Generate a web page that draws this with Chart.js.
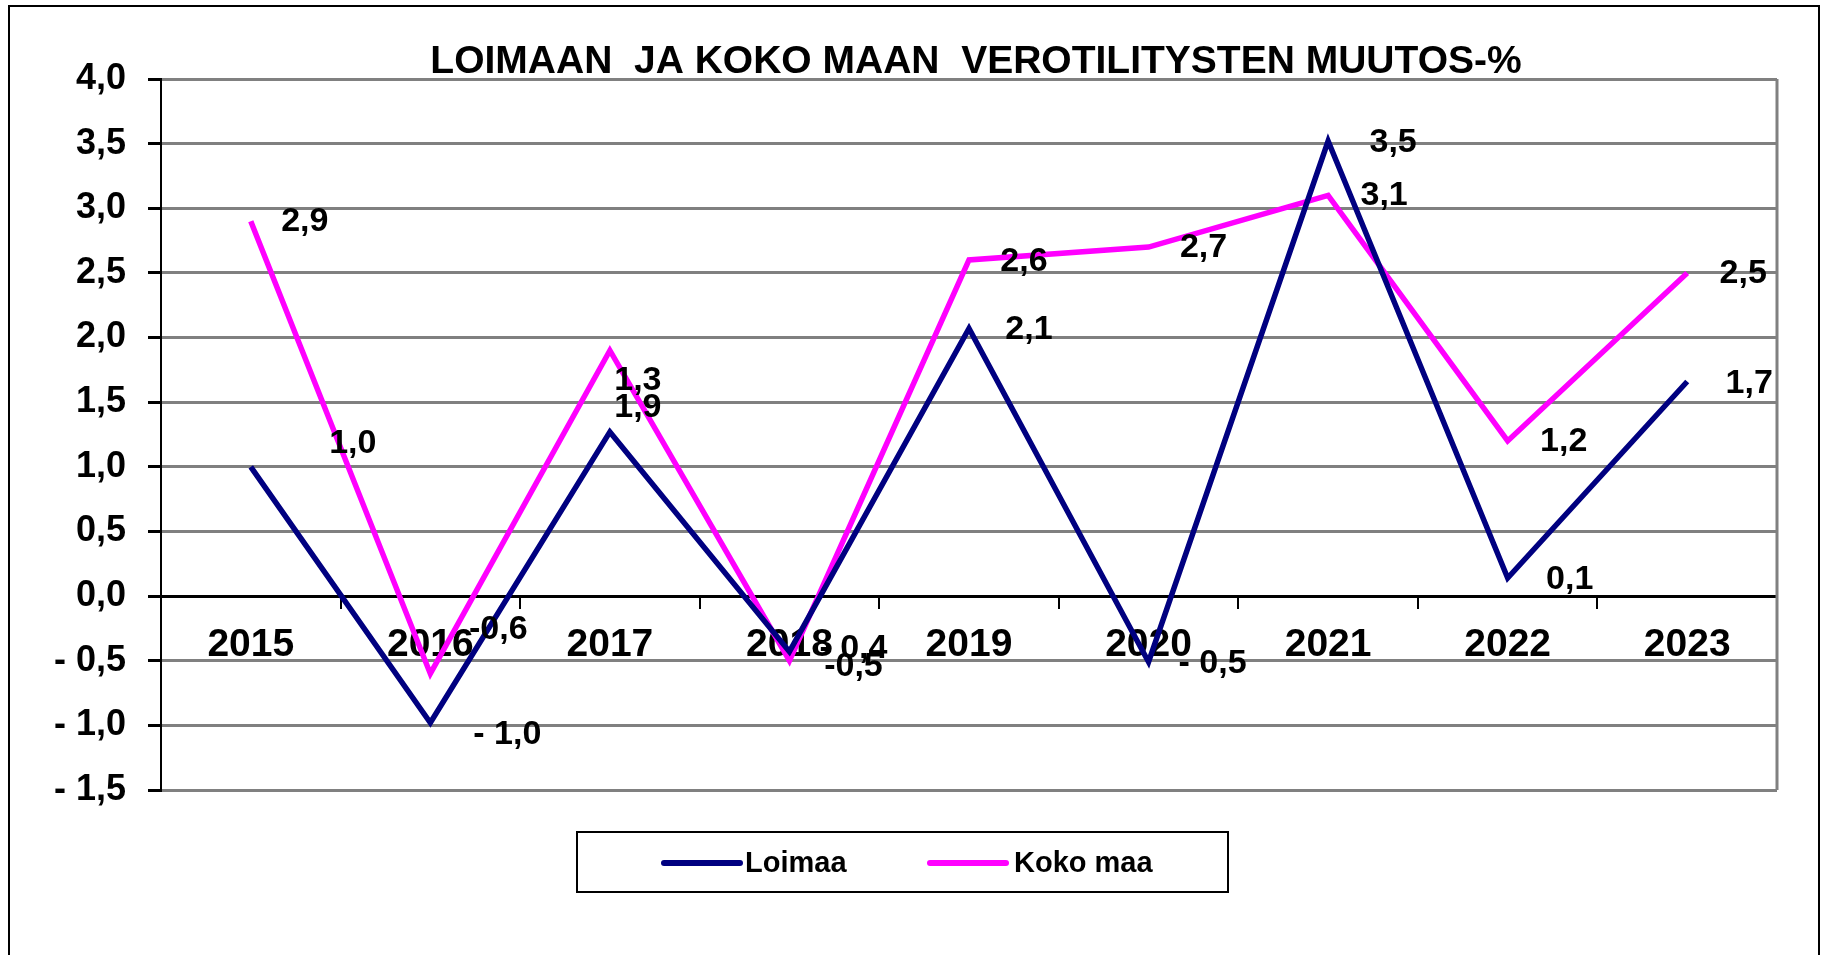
<!DOCTYPE html>
<html>
<head>
<meta charset="utf-8">
<script src="https://cdn.jsdelivr.net/npm/chart.js@4.4.1/dist/chart.umd.min.js"></script>
<style>
  html, body { margin: 0; padding: 0; background: #ffffff; }
  #chart_wrap { width: 1825px; height: 955px; position: relative; }
</style>
</head>
<body>
<div id="chart_wrap"><canvas id="verotilitykset_chart_area"></canvas></div>
<script>
// Vuodet
const years = ["2015", "2016", "2017", "2018", "2019", "2020", "2021", "2022", "2023"];

// Verotilitysten muutos-%
const loimaa_values = [1.0, -0.98, 1.27, -0.43, 2.07, -0.51, 3.52, 0.14, 1.66];
const koko_maa_values = [2.9, -0.6, 1.9, -0.5, 2.6, 2.7, 3.1, 1.2, 2.5];

// y axis range
const y_min = -1.5;
const y_max = 4.0;
const y_step = 0.5;

const title_text = "LOIMAAN  JA KOKO MAAN  VEROTILITYSTEN MUUTOS-%";

// hand placed data labels in the original, nudges in px from the point
const loimaa_label_nudge = [[102, -23], [77, 12], [28, -51], [64, -3], [60, 1], [64, 2], [65, 2], [62, 2], [62, 2]];
const koko_maa_label_nudge = [[54, 0], [68, -44], [28, 57], [64, 6], [55, 2], [55, 1], [56, 0], [56, 1], [56, 1]];

const FONT = '"Liberation Sans", Arial, sans-serif';

function fi_number(v, neg_prefix) {
  const s = Math.abs(v).toFixed(1).replace(".", ",");
  return v < 0 ? neg_prefix + s : s;
}

// frame, title, plot border, data labels and legend
const excel_look = {
  id: "excel_look",
  afterDatasetsDraw(chart) {
    const ctx = chart.ctx;
    const area = chart.chartArea;
    ctx.save();
    // plot area right border
    ctx.strokeStyle = "#808080";
    ctx.lineWidth = 3;
    ctx.beginPath();
    ctx.moveTo(area.right, area.top);
    ctx.lineTo(area.right, area.bottom);
    ctx.stroke();

    // data labels
    ctx.fillStyle = "#000000";
    ctx.font = "bold 34px " + FONT;
    ctx.textAlign = "center";
    ctx.textBaseline = "middle";
    chart.data.datasets.forEach((ds, i) => {
      const meta = chart.getDatasetMeta(i);
      meta.data.forEach((pt, j) => {
        const nudge = ds.labelNudge[j];
        ctx.fillText(fi_number(ds.data[j], ds.negPrefix), pt.x + nudge[0], pt.y + nudge[1]);
      });
    });
    ctx.restore();
  },
  afterDraw(chart) {
    const ctx = chart.ctx;
    ctx.save();
    // outer frame
    ctx.strokeStyle = "#000000";
    ctx.lineWidth = 2;
    ctx.strokeRect(9, 6, 1810, 1000);

    // title
    ctx.fillStyle = "#000000";
    ctx.font = "bold 39px " + FONT;
    ctx.textAlign = "center";
    ctx.textBaseline = "middle";
    ctx.fillText(title_text, 976, 62);

    // legend
    ctx.lineWidth = 2;
    ctx.strokeRect(577, 832, 651, 60);
    const items = [[664, 745], [930, 1014]];
    ctx.font = "bold 29px " + FONT;
    ctx.textAlign = "left";
    chart.data.datasets.forEach((ds, i) => {
      ctx.strokeStyle = ds.borderColor;
      ctx.lineWidth = 6;
      ctx.lineCap = "round";
      ctx.beginPath();
      ctx.moveTo(items[i][0], 863);
      ctx.lineTo(items[i][0] + 76, 863);
      ctx.stroke();
      ctx.fillText(ds.label, items[i][1], 864);
    });
    ctx.restore();
  },
};

const verotilitykset_chart_area = document
  .getElementById("verotilitykset_chart_area")
  .getContext("2d");
const verotilitykset_chart = new Chart(verotilitykset_chart_area, {
  type: "line",
  data: {
    labels: years,
    datasets: [
      {
        label: "Loimaa",
        data: loimaa_values,
        borderColor: "#000080",
        borderWidth: 5.5,
        pointRadius: 0,
        tension: 0,
        borderJoinStyle: "miter",
        negPrefix: "- ",
        labelNudge: loimaa_label_nudge,
      },
      {
        label: "Koko maa",
        data: koko_maa_values,
        borderColor: "#ff00ff",
        borderWidth: 5.5,
        pointRadius: 0,
        tension: 0,
        borderJoinStyle: "miter",
        negPrefix: "-",
        labelNudge: koko_maa_label_nudge,
      },
    ],
  },
  options: {
    responsive: true,
    maintainAspectRatio: false,
    animation: false,
    layout: {
      padding: { left: 0, top: 79, right: 48, bottom: 165 },
    },
    plugins: {
      legend: { display: false },
      title: { display: false },
      tooltip: { enabled: false },
    },
    scales: {
      x: {
        position: { y: 0 },
        offset: true,
        border: { color: "#000000", width: 2 },
        grid: {
          offset: true,
          drawOnChartArea: false,
          drawTicks: true,
          tickLength: 12,
          color: "#000000",
          lineWidth: 2,
        },
        ticks: {
          color: "#000000",
          font: { family: FONT, size: 39, weight: "bold" },
          padding: 14,
          maxRotation: 0,
          autoSkip: false,
        },
      },
      y: {
        min: y_min,
        max: y_max,
        afterFit: (scale) => {
          scale.width = 161;
        },
        border: { color: "#000000", width: 2 },
        grid: {
          color: (c) => (c.tick && c.tick.value === 0 ? "#000000" : "#808080"),
          lineWidth: 3,
          tickColor: "#000000",
          tickLength: 13,
        },
        ticks: {
          stepSize: y_step,
          color: "#000000",
          font: { family: FONT, size: 36, weight: "bold" },
          padding: 22,
          callback: (v) => fi_number(v, "- "),
        },
      },
    },
  },
  plugins: [excel_look],
});
</script>
</body>
</html>
